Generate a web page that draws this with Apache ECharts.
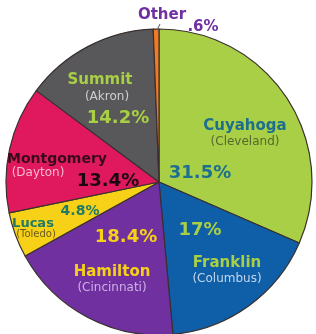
<!DOCTYPE html>
<html>
<head>
<meta charset="utf-8">
<script src="https://cdn.jsdelivr.net/npm/echarts@6/dist/echarts.min.js"></script>
<style>
  html, body { margin: 0; padding: 0; background: #fff; }
  #chart { width: 316px; height: 334px; }
</style>
</head>
<body>
<div id="chart"></div>
<script>
// county data, clockwise from 12 o'clock
const counties = ['Cuyahoga', 'Franklin', 'Hamilton', 'Lucas', 'Montgomery', 'Summit', 'Other']
const cities = ['Cleveland', 'Columbus', 'Cincinnati', 'Toledo', 'Dayton', 'Akron', '']
const shares = [31.5, 17, 18.4, 4.8, 13.4, 14.2, 0.6]

const sliceColors = ['#a8cf45', '#0e5ea8', '#7030a0', '#f7d117', '#e0195f', '#58585a', '#f47a20']

// label layout: [name x,y] [city x,y] [pct x,y] and colours for each
const labelStyle = [
  { name: [245, 126], city: [245, 142], pct: [200, 173], nameC: '#1d6f8e', cityC: '#55682e', pctC: '#1d6f8e' },
  { name: [227, 263], city: [227, 279], pct: [200, 230], nameC: '#a8cf45', cityC: '#c3d6ea', pctC: '#a8cf45' },
  { name: [112, 272], city: [112, 288], pct: [126, 237], nameC: '#f7d117', cityC: '#cdb0e6', pctC: '#f7d117' },
  { name: [33, 224], city: [36, 234], pct: [80, 211], nameC: '#1f7a68', cityC: '#6a5a20', pctC: '#1f7a68', small: true },
  { name: [57, 159], city: [38, 173], pct: [108, 181], nameC: '#3a0a1c', cityC: '#f6b9cf', pctC: '#1a080e' },
  { name: [100, 80], city: [107, 97], pct: [118, 118], nameC: '#a8cf45', cityC: '#cfcfcf', pctC: '#a8cf45' },
  { name: [162, 15], city: null, pct: [203, 27], nameC: '#7030a0', cityC: '#7030a0', pctC: '#7030a0' }
]

const fmtPct = v => (v < 1 ? String(v).replace(/^0/, '') : String(v)) + '%'

const font = '"DejaVu Sans", sans-serif'
const texts = []
counties.forEach((c, i) => {
  const s = labelStyle[i]
  texts.push({
    type: 'text', x: s.name[0], y: s.name[1], z: 100,
    style: { text: c, fill: s.nameC, font: `bold ${s.small ? 13 : (c === 'Montgomery' ? 14 : 15)}px ${font}`, align: 'center', verticalAlign: 'middle' }
  })
  if (s.city) {
    texts.push({
      type: 'text', x: s.city[0], y: s.city[1], z: 100,
      style: { text: '(' + cities[i] + ')', fill: s.cityC, font: `${s.small ? 10 : 12}px ${font}`, align: 'center', verticalAlign: 'middle' }
    })
  }
  texts.push({
    type: 'text', x: s.pct[0], y: s.pct[1], z: 100,
    style: { text: fmtPct(shares[i]), fill: s.pctC, font: `bold ${s.small ? 14 : (c === 'Other' ? 15 : 18)}px ${font}`, align: 'center', verticalAlign: 'middle' }
  })
})
// small leader from "Other" down to its slice
texts.push({
  type: 'polyline', z: 100,
  shape: { points: [[160, 24], [158, 28], [159, 33]] },
  style: { stroke: '#555', lineWidth: 1, fill: null }
})

const chart = echarts.init(document.getElementById('chart'))
chart.setOption({
  animation: false,
  series: [{
    type: 'pie',
    center: [159, 182],
    radius: 153,
    startAngle: 90,
    clockwise: true,
    label: { show: false },
    labelLine: { show: false },
    itemStyle: { borderColor: '#3a3030', borderWidth: 1.2 },
    data: counties.map((c, i) => ({ name: c, value: shares[i], itemStyle: { color: sliceColors[i] } }))
  }],
  graphic: { elements: texts }
})
</script>
</body>
</html>
